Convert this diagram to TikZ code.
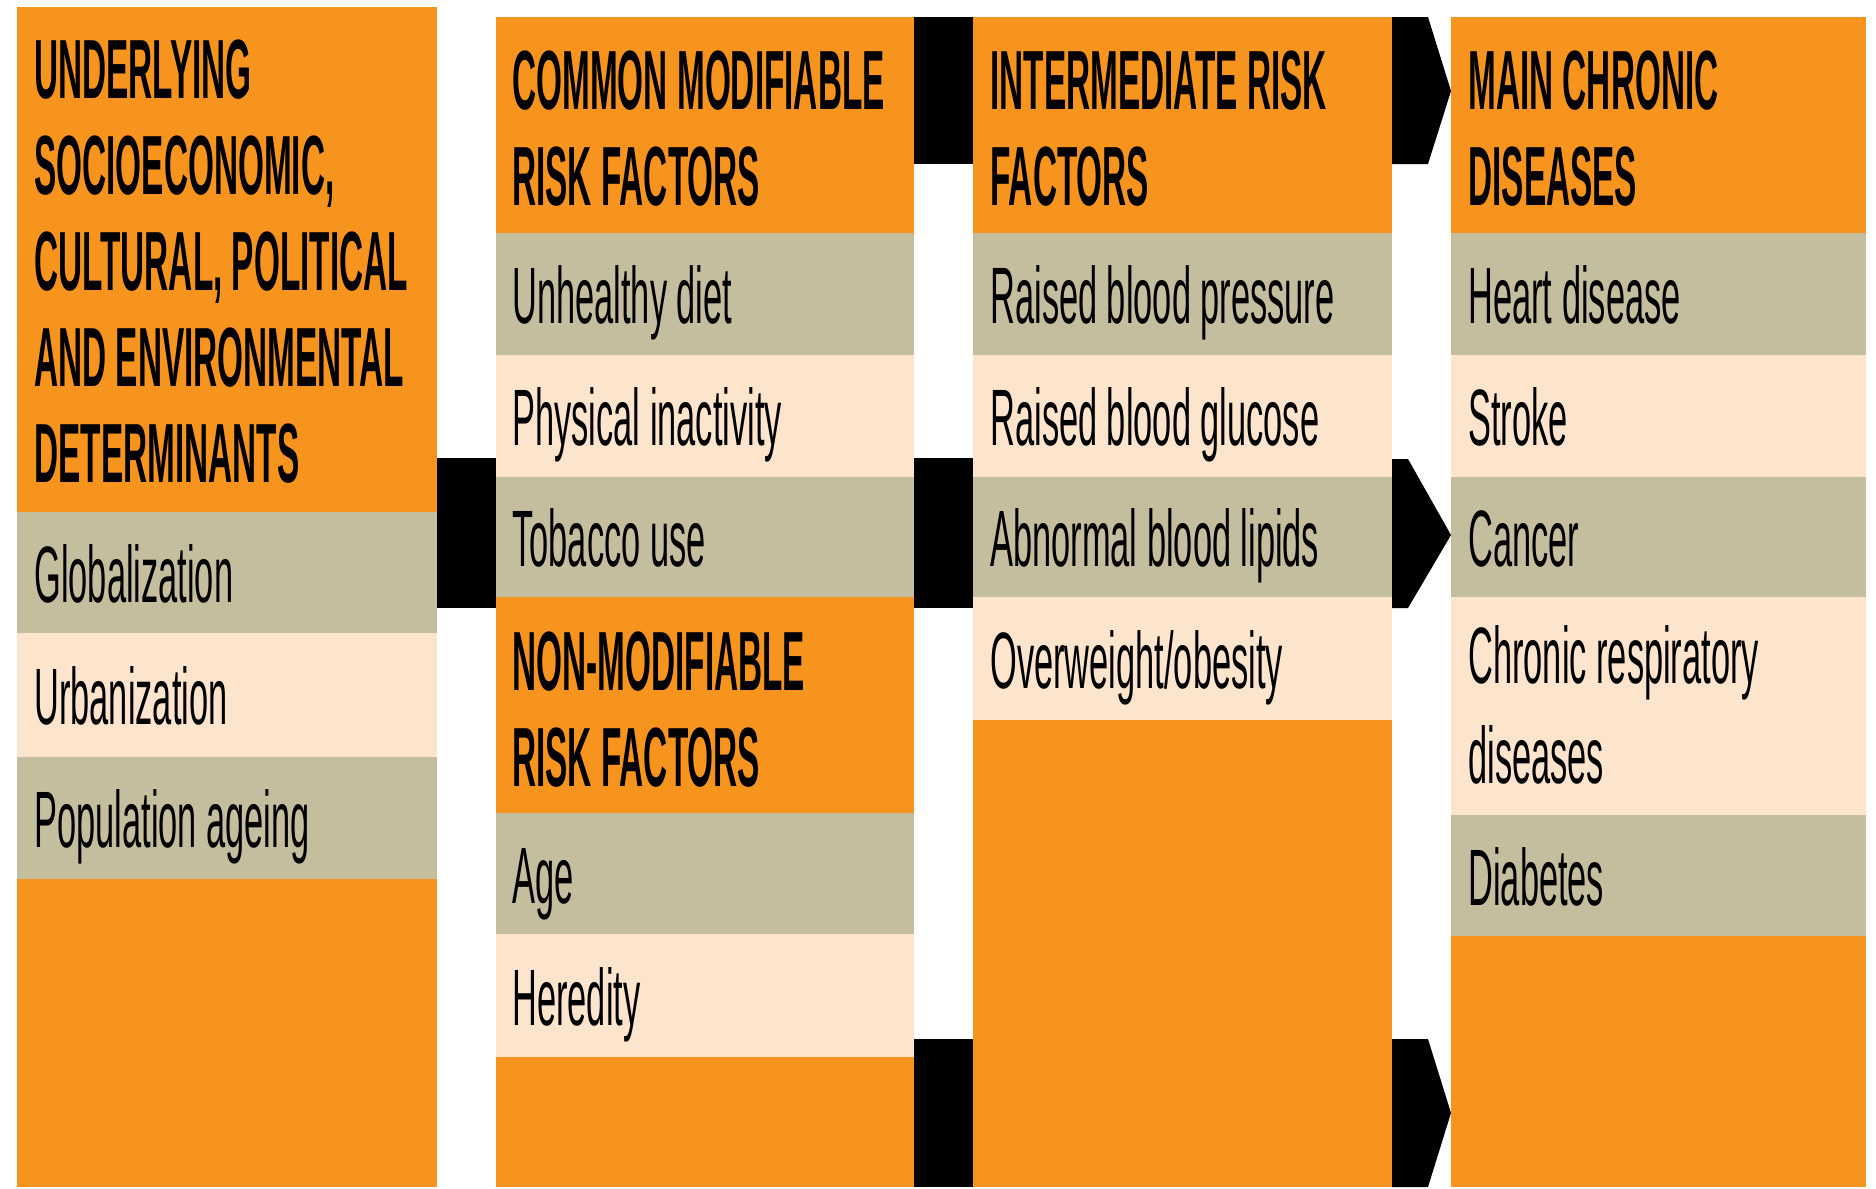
\documentclass[tikz,border=0pt]{standalone}
\usepackage{fontspec}
\setmainfont[FakeStretch=0.43]{Liberation Sans}
\newfontfamily\headfont[FakeStretch=0.397]{Liberation Sans}
\definecolor{ncdorange}{RGB}{247,148,30}
\definecolor{ncdtan}{RGB}{197,190,158}
\definecolor{ncdpeach}{RGB}{253,228,204}
\begin{document}
\begin{tikzpicture}[x=0.5pt,y=-0.5pt,
  item/.style={anchor=base west, inner sep=0pt, align=left,
    font=\fontsize{40pt}{50pt}\selectfont},
  head/.style={anchor=base west, inner sep=0pt, align=left,
    font=\headfont\bfseries\fontsize{42pt}{48pt}\selectfont},
  panel/.style={fill=ncdorange},
  darkrow/.style={fill=ncdtan},
  lightrow/.style={fill=ncdpeach},
  link/.style={fill=black}]
\useasboundingbox (0,0) rectangle (1876,1189);
\fill[white] (0,0) rectangle (1876,1189);

% Multi-line nodes are anchored at the baseline of their last line.

% ---- column 1: underlying determinants
\fill[panel] (17,7) rectangle (437,1187);
\fill[darkrow] (17,512) rectangle (437,633);
\fill[lightrow] (17,633) rectangle (437,757);
\fill[darkrow] (17,757) rectangle (437,879);
\node[head] (det) at (34,482) {UNDERLYING\\SOCIOECONOMIC,\\CULTURAL, POLITICAL\\AND ENVIRONMENTAL\\DETERMINANTS};
\node[item] (glob) at (34,602) {Globalization};
\node[item] (urb) at (34,724) {Urbanization};
\node[item] (age1) at (34,847) {Population ageing};

% ---- column 2: modifiable and non-modifiable risk factors
\fill[panel] (496,17) rectangle (914,1187);
\fill[darkrow] (496,233) rectangle (914,355);
\fill[lightrow] (496,355) rectangle (914,477);
\fill[darkrow] (496,477) rectangle (914,597);
\fill[darkrow] (496,813) rectangle (914,934);
\fill[lightrow] (496,934) rectangle (914,1057);
\node[head] (cmrf) at (512,205) {COMMON MODIFIABLE\\RISK FACTORS};
\node[item] (diet) at (512,323) {Unhealthy diet};
\node[item] (phys) at (512,445) {Physical inactivity};
\node[item] (tob) at (512,566) {Tobacco use};
\node[head] (nmrf) at (512,786) {NON-MODIFIABLE\\RISK FACTORS};
\node[item] (age) at (512,903) {Age};
\node[item] (her) at (512,1025) {Heredity};

% ---- column 3: intermediate risk factors
\fill[panel] (973,17) rectangle (1392,1187);
\fill[darkrow] (973,233) rectangle (1392,355);
\fill[lightrow] (973,355) rectangle (1392,477);
\fill[darkrow] (973,477) rectangle (1392,597);
\fill[lightrow] (973,597) rectangle (1392,720);
\node[head] (irf) at (990,205) {INTERMEDIATE RISK\\FACTORS};
\node[item] (bp) at (990,323) {Raised blood pressure};
\node[item] (glu) at (990,445) {Raised blood glucose};
\node[item] (lip) at (990,566) {Abnormal blood lipids};
\node[item] (obe) at (990,688) {Overweight/obesity};

% ---- column 4: main chronic diseases
\fill[panel] (1451,17) rectangle (1866,1187);
\fill[darkrow] (1451,233) rectangle (1866,355);
\fill[lightrow] (1451,355) rectangle (1866,477);
\fill[darkrow] (1451,477) rectangle (1866,597);
\fill[lightrow] (1451,597) rectangle (1866,815);
\fill[darkrow] (1451,815) rectangle (1866,936);
\node[head] (mcd) at (1468,205) {MAIN CHRONIC\\DISEASES};
\node[item] (heart) at (1468,323) {Heart disease};
\node[item] (stroke) at (1468,445) {Stroke};
\node[item] (cancer) at (1468,566) {Cancer};
\node[item] (resp) at (1468,783) {Chronic respiratory\\diseases};
\node[item] (diab) at (1468,905) {Diabetes};

% ---- black links between the columns
\fill[link] (914,17) rectangle (973,164);
\fill[link] (1392,17) -- (1428,17) -- (1451,91) -- (1428,164) -- (1392,164) -- cycle;

\fill[link] (437,458) rectangle (496,608);
\fill[link] (914,458) rectangle (973,608);
\fill[link] (1392,459) -- (1408,459) -- (1451,535) -- (1408,608) -- (1392,608) -- cycle;

\fill[link] (914,1039) rectangle (973,1187);
\fill[link] (1392,1039) -- (1428,1039) -- (1451,1113) -- (1428,1187) -- (1392,1187) -- cycle;
\end{tikzpicture}
\end{document}
